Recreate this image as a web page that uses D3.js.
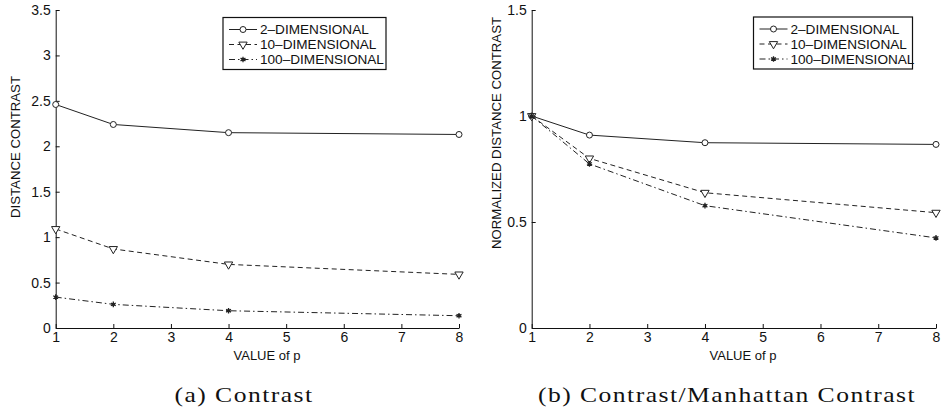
<!DOCTYPE html>
<html>
<head>
<meta charset="utf-8">
<script src="https://cdn.jsdelivr.net/npm/d3@7"></script>
<style>
  body { margin: 0; background: #fff; }
  text { font-family: "Liberation Sans", Arial, sans-serif; fill: #111; }
</style>
</head>
<body>
<div id="chart"></div>
<script>
// values
const pValues = [1, 2, 4, 8];
const seriesNames = ["2\u2013DIMENSIONAL", "10\u2013DIMENSIONAL", "100\u2013DIMENSIONAL"];

const contrast2D = [2.46, 2.24, 2.15, 2.13];
const contrast10D = [1.09, 0.87, 0.70, 0.59];
const contrast100D = [0.34, 0.26, 0.19, 0.135];

const norm2D = [1.0, 0.91, 0.874, 0.866];
const norm10D = [1.0, 0.80, 0.638, 0.544];
const norm100D = [1.0, 0.774, 0.577, 0.425];

const xTicks = [1, 2, 3, 4, 5, 6, 7, 8];
const yTicksA = [0, 0.5, 1, 1.5, 2, 2.5, 3, 3.5];
const yTicksB = [0, 0.5, 1, 1.5];

const width = 942, height = 413;

const svg = d3
  .select("#chart")
  .append("svg")
  .attr("width", width)
  .attr("height", height);

// line style per series: solid, dashed, dash-dot
const dashes = [null, "5,3.5", "6,3,1.5,3"];
const ink = "#222";

function drawMarker(g, k, x, y) {
  if (k === 0) {
    g.append("circle")
      .attr("cx", x).attr("cy", y).attr("r", 3)
      .attr("fill", "#fff").attr("stroke", ink).attr("stroke-width", 1);
  } else if (k === 1) {
    g.append("path")
      .attr("d", d3.symbol(d3.symbolTriangle, 30)())
      .attr("transform", `translate(${x},${y}) rotate(180)`)
      .attr("fill", "#fff").attr("stroke", ink).attr("stroke-width", 1);
  } else {
    g.append("path")
      .attr("d", d3.symbol(d3.symbolAsterisk, 22)())
      .attr("transform", `translate(${x},${y})`)
      .attr("fill", "none").attr("stroke", ink).attr("stroke-width", 1.3);
    g.append("circle")
      .attr("cx", x).attr("cy", y).attr("r", 1.6).attr("fill", ink);
  }
}

function drawPanel(cfg) {
  const x = d3.scaleLinear().domain([1, 8]).range(cfg.xRange);
  const y = d3.scaleLinear().domain(cfg.yDomain).range([328, 10]);
  const g = svg.append("g");

  // axes (MATLAB style ticks pointing inward)
  const xAxis = g.append("g")
    .attr("transform", `translate(0,${y(0)})`)
    .call(d3.axisBottom(x).tickValues(xTicks).tickFormat((d) => d)
      .tickSizeInner(-4).tickSizeOuter(0).tickPadding(4));
  const yAxis = g.append("g")
    .attr("transform", `translate(${x(1)},0)`)
    .call(d3.axisLeft(y).tickValues(cfg.yTicks).tickFormat((d) => d)
      .tickSizeInner(-4).tickSizeOuter(0).tickPadding(5));
  [xAxis, yAxis].forEach((a) => {
    a.select(".domain").attr("stroke", "#111");
    a.selectAll(".tick line").attr("stroke", "#111");
    a.selectAll("text")
      .attr("font-family", "Liberation Sans, Arial, sans-serif")
      .attr("font-size", 14).attr("fill", "#111");
  });

  // lines
  const line = d3.line().x((d) => x(d[0])).y((d) => y(d[1]));
  cfg.series.forEach((vals, k) => {
    const pts = pValues.map((p, i) => [p, vals[i]]);
    g.append("path")
      .datum(pts)
      .attr("d", line)
      .attr("fill", "none")
      .attr("stroke", ink)
      .attr("stroke-width", 1)
      .attr("stroke-dasharray", dashes[k]);
  });
  cfg.series.forEach((vals, k) => {
    pValues.forEach((p, i) => drawMarker(g, k, x(p), y(vals[i])));
  });

  // axis titles
  g.append("text")
    .attr("x", cfg.xLabelX)
    .attr("y", 360)
    .attr("text-anchor", "middle")
    .attr("font-size", 13)
    .text("VALUE of p");
  g.append("text")
    .attr("transform", `translate(${cfg.yLabelX},${cfg.yLabelY}) rotate(-90)`)
    .attr("text-anchor", "middle")
    .attr("dy", "0.35em")
    .attr("font-size", 13.2)
    .text(cfg.yLabel);

  // legend
  const lg = g.append("g").attr("transform", `translate(${cfg.legend[0]},${cfg.legend[1]})`);
  lg.append("rect")
    .attr("width", cfg.legend[2]).attr("height", 52)
    .attr("fill", "#fff").attr("stroke", "#111").attr("stroke-width", 1.2);
  seriesNames.forEach((name, k) => {
    const ry = 12 + k * 15;
    lg.append("line")
      .attr("x1", 6).attr("x2", 34).attr("y1", ry).attr("y2", ry)
      .attr("stroke", ink).attr("stroke-width", 1)
      .attr("stroke-dasharray", dashes[k]);
    drawMarker(lg, k, 20, ry);
    lg.append("text")
      .attr("x", 37).attr("y", ry).attr("dy", "0.36em")
      .attr("font-size", 13.6)
      .text(name);
  });

  // caption
  svg.append("text")
    .attr("transform", `translate(${cfg.captionX},402) scale(1.22,1)`)
    .attr("text-anchor", "middle")
    .style("font-family", "Liberation Serif, serif")
    .style("letter-spacing", "1.2px")
    .attr("font-size", 21)
    .text(cfg.caption);
}

drawPanel({
  xRange: [55.7, 459],
  yDomain: [0, 3.5],
  yTicks: yTicksA,
  series: [contrast2D, contrast10D, contrast100D],
  yLabel: "DISTANCE CONTRAST",
  yLabelX: 15,
  yLabelY: 147,
  xLabelX: 267,
  legend: [223, 17.5, 163],
  caption: "(a) Contrast",
  captionX: 244,
});

drawPanel({
  xRange: [531.7, 936],
  yDomain: [0, 1.5],
  yTicks: yTicksB,
  series: [norm2D, norm10D, norm100D],
  yLabel: "NORMALIZED DISTANCE CONTRAST",
  yLabelX: 496,
  yLabelY: 133,
  xLabelX: 743,
  legend: [753.5, 17, 159],
  caption: "(b) Contrast/Manhattan Contrast",
  captionX: 727,
});
</script>
</body>
</html>
